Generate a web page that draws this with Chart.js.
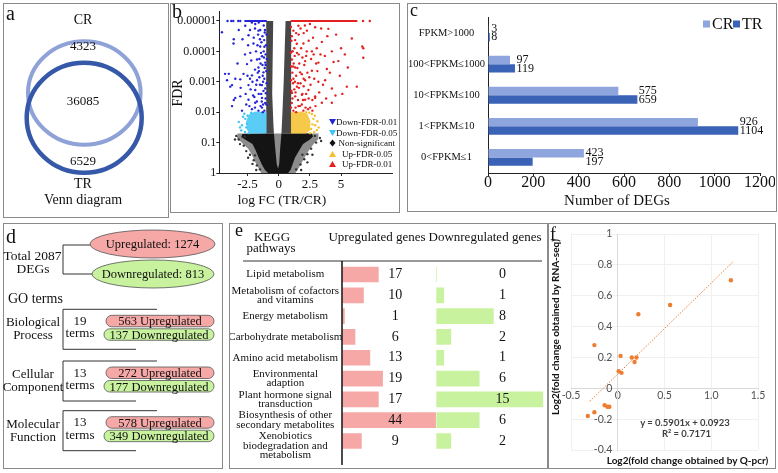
<!DOCTYPE html>
<html>
<head>
<meta charset="utf-8">
<title>DEG overview</title>
<script src="https://cdn.jsdelivr.net/npm/chart.js@4.4.1/dist/chart.umd.min.js"></script>
<style>
  html, body { margin: 0; padding: 0; background: #fff; }
  #fig { position: relative; width: 778px; height: 473px; overflow: hidden; background: #fff; }
  .panel { position: absolute; border: 1px solid #8a8a8a; box-sizing: border-box; }
  canvas { position: absolute; }
  #shapes { position: absolute; left: 0; top: 0; }
  .t { position: absolute; white-space: nowrap; line-height: 1; }
</style>
</head>
<body>
<div id="fig">
  <div class="panel" style="left:3px;top:3px;width:166px;height:215px"></div>
  <div class="panel" style="left:170px;top:3px;width:230px;height:210px"></div>
  <div class="panel" style="left:407px;top:3px;width:370px;height:209px"></div>
  <div class="panel" style="left:3px;top:223px;width:220px;height:246px"></div>
  <div class="panel" style="left:229px;top:223px;width:319px;height:246px"></div>
  <div class="panel" style="left:548px;top:223px;width:228px;height:246px"></div>
  <canvas id="volcano" width="227" height="207" style="left:171px;top:4px"></canvas>
  <canvas id="fpkm" width="367" height="207" style="left:408px;top:4px"></canvas>
  <canvas id="kegg" width="316" height="243" style="left:230px;top:224px"></canvas>
  <canvas id="qpcr" width="225" height="243" style="left:550px;top:224px"></canvas>
  <svg id="shapes" width="778" height="473"></svg>
</div>
<script>
// ---- a: Venn counts
const vennSets = ['CR', 'TR'];
const vennCounts = [4323, 36085, 6529]; // CR only, shared, TR only

// ---- b: volcano, x = log FC, y = -log10(FDR)
const fdrTickLabels = ['1', '0.1', '0.01', '0.001', '0.0001', '0.00001'];
const fcTicks = [-2.5, 0, 2.5, 5];
const downStrong = [[-4.55,4.63],[-3.62,4.26],[-3.6,4.4],[-2.68,4.84],[-2.42,4.53],[-1.88,4.9],[-1.62,4.68],[-2.02,4.26],
  [-1.48,4.16],[-1.16,4.37],[-2.28,3.95],[-1.74,3.73],[-1.34,3.84],[-1.08,3.63],[-2.54,3.58],[-1.62,3.47],[-1.22,3.31],
  [-2.82,3.26],[-2.14,3.21],[-1.74,3.05],[-4.0,3.26],[-4.3,3.26],[-4.14,3.05],[-3.48,3.1],[-3.08,3.08],[-2.42,2.89],
  [-1.34,2.89],[-1.88,2.73],[-1.08,2.78],[-3.88,2.84],[-3.74,2.89],[-3.48,2.47],[-3.08,2.52],[-3.74,2.2],[-3.6,2.4],
  [-2.42,2.41],[-1.88,2.31],[-1.34,2.47],[-2.14,2.1],[-1.34,2.15],[-2.94,2.05],[-1.62,2.05],[-1.1,4.7],[-1.3,4.5],
  [-1.5,4.4],[-1.2,4.0],[-1.45,3.6],[-1.15,3.1],[-1.55,3.15],[-1.05,2.45],[-1.25,2.25],[-1.6,2.6],[-1.9,3.4],[-2.2,3.7],
  [-1.3,3.55],[-1.05,3.9],[-1.7,4.2],[-2.3,4.7],[-1.4,2.6],[-1.15,2.05],[-1.75,2.35],[-2.05,2.55],[-2.6,2.25],[-2.3,3.1],
  [-1.2,4.85],[-1.6,4.95],[-4.1,5],[-3.8,5],[-3.64,5],[-3.24,5],[-3.08,5],
  [-0.98,4.55],[-1.02,4.2],[-0.96,3.75],[-1.0,3.35],[-0.97,2.95],[-1.03,2.62],[-0.99,2.25],[-1.12,4.62],[-1.18,3.8],
  [-1.28,3.2],[-1.38,4.3],[-1.42,3.95],[-1.55,3.75],[-1.68,3.3],[-1.8,2.9],[-1.95,2.5],[-1.36,2.35],[-1.22,2.7],
  [-1.12,3.45],[-1.5,2.9],[-1.65,4.55],[-1.82,4.0],[-2.0,4.45],[-2.1,3.0],[-2.25,2.75],[-2.5,3.2],[-2.7,3.9],[-2.9,4.4],
  [-3.2,4.7],[-2.45,4.2],[-1.08,2.3],[-1.28,2.0],[-1.45,2.2],[-1.58,3.35],[-1.9,2.15],[-2.35,2.2],[-2.65,2.6],[-3.3,3.6],
  [-3.05,2.8],[-1.15,4.15],[-1.25,3.0],[-1.05,3.55],[-1.48,4.7],[-1.9,4.75],[-2.15,4.95]];
const upStrong = [[1.18,4.68],[1.58,4.84],[2.26,4.68],[2.92,4.79],[3.98,4.74],[1.32,4.37],[1.98,4.26],[3.46,4.31],
  [1.46,3.95],[2.66,4.0],[4.26,4.0],[1.06,3.73],[2.12,3.68],[3.18,3.63],[1.32,3.47],[1.72,3.31],[2.66,3.36],[3.86,3.42],
  [1.18,3.1],[2.12,3.05],[3.18,3.0],[1.46,2.84],[2.38,2.73],[4.26,2.78],[1.06,2.63],[1.86,2.57],[1.32,2.52],[2.12,2.41],
  [2.92,2.47],[3.46,2.31],[1.58,2.2],[2.52,2.15],[1.18,2.05],[1.98,2.05],[5.86,4.42],[5.54,3.47],[5.46,2.84],[6.78,4.1],
  [6.7,4.16],[6.78,3.79],[6.26,2.84],[4.78,3.68],[3.72,3.05],[4.26,2.31],[2.92,2.52],[1.05,4.5],[1.25,4.1],[1.6,4.55],
  [1.1,3.3],[1.4,3.2],[1.75,2.95],[1.25,2.75],[1.55,2.4],[1.05,2.3],[1.35,2.15],[1.85,2.25],[2.2,2.6],[2.45,3.15],
  [1.9,3.8],[2.4,4.35],[1.15,2.95],[1.65,3.6],[2.0,2.85],[1.4,2.0],[2.7,2.05],[3.1,3.35],[2.0,4.6],[3.4,4.75],[2.8,3.9],
  [3.7,3.85],[4.6,4.55],[5.1,2.6],[4.9,3.2],[6.76,5],[7.3,5],
  [0.98,4.8],[1.02,4.35],[0.97,3.95],[1.0,3.5],[0.98,3.05],[1.02,2.7],[0.99,2.15],[1.12,4.0],[1.2,3.6],[1.3,3.0],
  [1.45,4.25],[1.5,3.45],[1.62,2.8],[1.7,2.2],[1.8,4.1],[1.85,3.25],[1.95,2.4],[2.05,3.55],[2.15,2.15],[2.25,4.0],
  [2.3,3.3],[2.4,2.45],[2.55,2.9],[2.6,3.75],[2.75,4.45],[2.85,3.1],[2.95,2.2],[3.05,4.1],[3.25,2.65],[3.35,3.9],
  [3.55,2.9],[3.8,2.45],[3.9,4.5],[4.1,3.3],[4.4,3.65],[4.55,2.55],[5.0,4.1],[5.3,3.9],[1.1,2.45],[1.35,2.65],
  [1.55,2.95],[1.28,3.85],[1.4,4.6],[1.75,4.75],[2.1,4.85],[2.5,4.9],[1.6,3.9],[2.2,3.85],[1.9,2.6],[2.35,2.1],
  [1.15,3.5],[1.08,4.0],[3.0,3.6],[2.7,2.4],[2.0,3.1]];
const downWeak = [[-3.2,1.68],[-2.68,1.78],[-2.94,1.57],[-2.42,1.31],[-2.75,1.95],[-3.0,1.4],[-2.6,1.5],[-2.2,1.98],
  [-2.7,1.35],[-2.85,1.85],[-2.55,1.62],[-3.1,1.5],[-2.5,1.88]];
const upWeak = [[2.78,1.78],[2.92,1.57],[3.06,1.41],[2.52,1.31],[2.66,1.94],[2.2,2.0],[2.7,1.6],[3.2,1.5],[2.9,1.88],
  [2.6,1.45],[2.85,1.35],[3.1,1.7],[2.45,1.98]];
const nonSigDots = [[-3.2,1.1],[-2.8,0.9],[-2.6,0.72],[-2.3,0.6],[-2.0,0.42],[-1.75,0.25],[-1.5,0.12],[-3.4,1.22],
  [-2.7,1.2],[3.0,1.0],[2.6,0.8],[2.3,0.62],[2.05,0.45],[1.75,0.28],[1.4,0.12],[3.3,1.15],[2.9,1.22],[1.9,0.6],[-1.9,0.58],
  [-3.5,1.1],[-3.1,0.95],[-2.45,0.5],[-2.1,0.3],[3.4,1.05],[2.7,0.6],[2.3,0.35],[-1.8,0.1],[1.8,0.1]];
// dense regions, outlined by hand
const cloudFringe = [[-3.3,1.3],[-3.35,1.15],[-2.85,0.95],[-2.45,0.8],[-2.15,0.6],[-1.9,0.38],[-1.65,0.18],[-1.4,0],
  [1.35,0],[1.65,0.2],[2.0,0.45],[2.35,0.7],[2.8,0.95],[3.15,1.1],[3.2,1.3]];
const cloudCore = [[-1.0,1.3],[-2.9,1.28],[-3.0,1.18],[-2.5,1.05],[-2.1,0.95],[-1.85,0.75],[-1.6,0.5],[-1.35,0.28],
  [-1.1,0.1],[-0.85,0],[0.75,0],[0.95,0.1],[1.3,0.5],[1.65,0.75],[1.95,0.95],[2.5,1.1],[2.75,1.2],[2.65,1.3],[1.0,1.3],
  [0.22,1.3],[0.12,0.82],[0.04,0.3],[-0.05,0.15],[-0.16,0.3],[-0.28,0.82],[-0.38,1.3]];
const cloudLeftArm = [[-1.0,1.3],[-1.0,5.0],[-0.44,5.0],[-0.52,2.6],[-0.42,1.58],[-0.38,1.3]];
const cloudRightArm = [[1.0,1.3],[1.0,5.0],[0.55,5.0],[0.4,3.0],[0.3,2.0],[0.25,1.55],[0.22,1.3]];
const downWeakCloud = [[-0.98,1.3],[-0.98,2.0],[-1.9,2.02],[-2.4,1.92],[-2.6,1.7],[-2.55,1.42],[-2.3,1.3]];
const upWeakCloud = [[0.98,1.3],[0.98,2.0],[1.8,2.02],[2.3,1.95],[2.55,1.7],[2.5,1.4],[2.2,1.3]];
const downFloor = [[-2.75,5],[-0.95,5]];
const upFloor = [[0.95,5],[6.3,5]];
const volcanoLegend = ['Down-FDR-0.01', 'Down-FDR-0.05', 'Non-significant', 'Up-FDR-0.05', 'Up-FDR-0.01'];

// ---- c: DEGs per FPKM bin
const fpkmBins = ['FPKM>1000', '100<FPKM≤1000', '10<FPKM≤100', '1<FPKM≤10', '0<FPKM≤1'];
const crCounts = [3, 97, 575, 926, 423];
const trCounts = [8, 119, 659, 1104, 197];

// ---- d: DEG totals and GO terms
const degTotal = 2087, degUp = 1274, degDown = 813;
const goCategories = [['Biological', 'Process'], ['Cellular', 'Component'], ['Molecular', 'Function']];
const goTerms = [19, 13, 13];
const goUp = [563, 272, 578];
const goDown = [137, 177, 349];

// ---- e: KEGG pathways
const keggPathways = [
  'Lipid metabolism',
  ['Metabolism of cofactors', 'and vitamins'],
  'Energy metabolism',
  'Carbohydrate metabolism',
  'Amino acid metabolism',
  ['Environmental', 'adaption'],
  ['Plant hormone signal', 'transduction'],
  ['Biosynthesis of other', 'secondary metabolites'],
  ['', 'Xenobiotics', 'biodegradation and', 'metabolism']
];
const keggUp = [17, 10, 1, 6, 13, 19, 17, 44, 9];
const keggDown = [0, 1, 8, 2, 1, 6, 15, 6, 2];

// ---- f: qPCR vs RNA-seq
const qpcrFC = [1.21, 0.56, 0.22, -0.25, 0.03, 0.15, 0.20, 0.18, 0.01, 0.04, -0.14, -0.11, -0.09, -0.25, -0.32];
const rnaseqFC = [0.70, 0.54, 0.48, 0.28, 0.21, 0.20, 0.20, 0.17, 0.11, 0.10, -0.11, -0.12, -0.12, -0.155, -0.18];
const trendSlope = 0.5901, trendIntercept = 0.0923, trendR2 = 0.7171;
const trendRange = [-0.3, 1.23];

const SERIF = '"Liberation Serif", "Times New Roman", serif';
const SANS = 'Lato, "Liberation Sans", Arial, sans-serif';
const BLUE = '#2424d8', CYAN = '#3cc4f4', YELLOW = '#f6c02c', RED = '#e42020';
const CR_COLOR = '#8ea5dd', TR_COLOR = '#3a62b6';
const PINK = '#f5a8a6', GREEN = '#c8f29e';

Chart.defaults.font.family = SERIF;
Chart.defaults.color = '#111';

const fig = document.getElementById('fig');
const svg = document.getElementById('shapes');

function put(str, x, y, o = {}) {
  const d = document.createElement('div');
  d.className = 't';
  d.textContent = str;
  d.style.font = `${o.weight || 'normal'} ${o.size || 13}px ${o.family || SERIF}`;
  d.style.color = o.color || '#111';
  d.style.left = x + 'px';
  d.style.top = y + 'px';
  const tx = o.align === 'left' ? '0' : o.align === 'right' ? '-100%' : '-50%';
  d.style.transform = `translate(${tx},-50%)` + (o.rotate ? ` rotate(${o.rotate}deg)` : '');
  fig.appendChild(d);
}

function shape(tag, attrs) {
  const el = document.createElementNS('http://www.w3.org/2000/svg', tag);
  for (const k in attrs) el.setAttribute(k, attrs[k]);
  svg.appendChild(el);
  return el;
}

const pts = arr => arr.map(([x, y]) => ({ x, y }));

// ================= a =================
shape('ellipse', { cx: 84.3, cy: 93, rx: 56.3, ry: 51.7, fill: 'none', stroke: '#8fa2d8', 'stroke-width': 4 });
shape('ellipse', { cx: 84.2, cy: 117.8, rx: 57.5, ry: 55, fill: 'none', stroke: '#3658a8', 'stroke-width': 4.5 });
put('a', 6, 13, { size: 20, align: 'left' });
put(vennSets[0], 83, 20, { size: 14 });
put(String(vennCounts[0]), 83, 46, { size: 13 });
put(String(vennCounts[1]), 83, 101, { size: 13 });
put(String(vennCounts[2]), 83, 161, { size: 13 });
put(vennSets[1], 83, 184, { size: 14 });
put('Venn diagram', 83, 200, { size: 14 });

// ================= b =================
const volcanoClouds = {
  id: 'volcanoClouds',
  beforeDatasetsDraw(chart) {
    const { ctx, chartArea: ca, scales: { x, y } } = chart;
    ctx.save();
    ctx.beginPath();
    ctx.rect(ca.left, ca.top, ca.width, ca.height);
    ctx.clip();
    [[cloudFringe, '#8c8c8c'], [cloudCore, '#141414'], [cloudLeftArm, '#474747'], [cloudRightArm, '#474747'],
     [downWeakCloud, 'rgba(60,196,244,0.85)'], [upWeakCloud, 'rgba(246,192,44,0.85)']].forEach(([poly, color]) => {
      ctx.beginPath();
      poly.forEach(([a, b], i) => {
        const px = x.getPixelForValue(a), py = y.getPixelForValue(b);
        if (i) ctx.lineTo(px, py); else ctx.moveTo(px, py);
      });
      ctx.closePath();
      ctx.fillStyle = color;
      ctx.fill();
    });
    ctx.restore();
  }
};

const dots = (data, color) => ({ data: pts(data), backgroundColor: color, borderWidth: 0, pointRadius: 1.2 });
const floor = (data, color) => ({ type: 'line', data: pts(data), borderColor: color, borderWidth: 2, pointRadius: 0, fill: false });

new Chart(document.getElementById('volcano'), {
  type: 'scatter',
  data: {
    datasets: [
      dots(nonSigDots, '#333'),
      dots(downWeak, CYAN),
      dots(upWeak, YELLOW),
      floor(downFloor, BLUE),
      floor(upFloor, RED),
      dots(downStrong, BLUE),
      dots(upStrong, RED)
    ]
  },
  options: {
    responsive: false, animation: false, devicePixelRatio: 1,
    layout: { padding: { top: 1, right: 6, left: 0, bottom: 0 } },
    plugins: { legend: { display: false }, tooltip: { enabled: false } },
    scales: {
      x: {
        type: 'linear', min: -4.76, max: 9.08,
        afterBuildTicks: s => { s.ticks = fcTicks.map(v => ({ value: v })); },
        afterFit: s => { s.height = 38; },
        grid: { drawOnChartArea: false, tickLength: 3, color: '#222' },
        border: { color: '#222' },
        ticks: { color: '#111', font: { size: 13, lineHeight: 1 }, padding: 2.5, maxRotation: 0, autoSkip: false }
      },
      y: {
        type: 'linear', min: 0, max: 5.32,
        afterBuildTicks: s => { s.ticks = fdrTickLabels.map((_, i) => ({ value: i })); },
        afterFit: s => { s.width = 48.3; },
        grid: { drawOnChartArea: false, tickLength: 3, color: '#222' },
        border: { color: '#222' },
        ticks: { color: '#111', font: { size: 12 }, padding: 0, autoSkip: false, callback: v => fdrTickLabels[v] }
      }
    }
  },
  plugins: [volcanoClouds]
});

put('b', 172, 11, { size: 20, align: 'left' });
put('FDR', 178, 93, { size: 14, rotate: -90 });
put('log FC (TR/CR)', 282, 200, { size: 13.5 });

const legendColors = [BLUE, CYAN, '#111', YELLOW, RED];
const legendRowY = [122, 133, 143, 154, 164];
const legendTextX = [336, 336, 338.5, 342, 342];
volcanoLegend.forEach((name, i) => {
  const cx = 332.5, cy = legendRowY[i];
  let p;
  if (i < 2) p = `${cx - 3.5},${cy - 3} ${cx + 3.5},${cy - 3} ${cx},${cy + 3}`;
  else if (i === 2) p = `${cx},${cy - 3.5} ${cx + 3},${cy} ${cx},${cy + 3.5} ${cx - 3},${cy}`;
  else p = `${cx - 3.5},${cy + 3} ${cx + 3.5},${cy + 3} ${cx},${cy - 3}`;
  shape('polygon', { points: p, fill: legendColors[i] });
  put(name, legendTextX[i], cy, { size: 9, align: 'left' });
});

// ================= c =================
const barValueLabels = {
  id: 'barValueLabels',
  afterDatasetsDraw(chart) {
    const ctx = chart.ctx;
    const cr = chart.getDatasetMeta(0).data, tr = chart.getDatasetMeta(1).data;
    ctx.save();
    ctx.font = '12px ' + SERIF;
    ctx.fillStyle = '#111';
    ctx.textAlign = 'left';
    ctx.textBaseline = 'middle';
    cr.forEach((bar, i) => {
      const x = Math.max(bar.x, tr[i].x) + 1.5;
      ctx.fillText(crCounts[i], x, bar.y);
      ctx.fillText(trCounts[i], x, tr[i].y);
    });
    ctx.restore();
  }
};

new Chart(document.getElementById('fpkm'), {
  type: 'bar',
  data: {
    labels: fpkmBins,
    datasets: [
      { label: 'CR', data: crCounts, backgroundColor: CR_COLOR },
      { label: 'TR', data: trCounts, backgroundColor: TR_COLOR }
    ]
  },
  options: {
    indexAxis: 'y', responsive: false, animation: false, devicePixelRatio: 1,
    layout: { padding: { top: 13.5, right: 12, left: 0, bottom: 0 } },
    datasets: { bar: { categoryPercentage: 0.54, barPercentage: 1 } },
    plugins: { legend: { display: false }, tooltip: { enabled: false } },
    scales: {
      x: {
        min: 0, max: 1200,
        afterFit: s => { s.height = 38; },
        grid: { drawOnChartArea: false, tickLength: 3, color: '#222' },
        border: { color: '#222' },
        ticks: { stepSize: 200, color: '#111', font: { size: 16, lineHeight: 1 }, padding: -1, maxRotation: 0, callback: v => String(v) }
      },
      y: {
        afterFit: s => { s.width = 80; },
        grid: { display: false, drawTicks: false },
        border: { display: true, color: '#222' },
        ticks: { color: '#111', font: { size: 10.5 }, crossAlign: 'center', padding: 3, autoSkip: false }
      }
    }
  },
  plugins: [barValueLabels]
});

put('c', 410, 10, { size: 18, align: 'left' });
shape('rect', { x: 703, y: 20.5, width: 7, height: 7, fill: CR_COLOR });
put('CR', 712, 24, { size: 16, align: 'left' });
shape('rect', { x: 733, y: 20.5, width: 7, height: 7, fill: TR_COLOR });
put('TR', 742, 24, { size: 16, align: 'left' });
put('Number of DEGs', 617, 200, { size: 15 });

// ================= d =================
const lineStyle = { fill: 'none', stroke: '#333', 'stroke-width': 1 };
put('d', 6, 235.5, { size: 20, align: 'left' });
put('Total ' + degTotal, 32.5, 256, { size: 13.5 });
put('DEGs', 33, 269, { size: 13.5 });
shape('polyline', Object.assign({ points: '92,245 63,245 63,274 97,274' }, lineStyle));
shape('ellipse', { cx: 152.5, cy: 244, rx: 62.5, ry: 14, fill: PINK, stroke: '#555', 'stroke-width': 0.8 });
put('Upregulated: ' + degUp, 152.5, 244, { size: 12.5 });
shape('ellipse', { cx: 153, cy: 274, rx: 61, ry: 14, fill: GREEN, stroke: '#555', 'stroke-width': 0.8 });
put('Downregulated: ' + degDown, 153, 274, { size: 12.5 });
put('GO terms', 8, 299, { size: 14, align: 'left' });

const goBlockTop = [309.3, 361, 410.7];
goBlockTop.forEach((y0, i) => {
  shape('polyline', Object.assign({ points: `157,${y0} 63,${y0} 63,${y0 + 40} 136,${y0 + 40}` }, lineStyle));
  put(goCategories[i][0], 33, y0 + 13, { size: 13 });
  put(goCategories[i][1], 33, y0 + 26, { size: 13 });
  put(String(goTerms[i]), 80, y0 + 11.5, { size: 13 });
  put('terms', 80, y0 + 24, { size: 13 });
  shape('rect', { x: 106, y: y0 + 6, width: 108, height: 11.5, rx: 5.75, fill: PINK, stroke: '#555', 'stroke-width': 0.8 });
  put(goUp[i] + ' Upregulated', 160, y0 + 12, { size: 12.5 });
  shape('rect', { x: 104, y: y0 + 19.5, width: 110, height: 11.5, rx: 5.75, fill: GREEN, stroke: '#555', 'stroke-width': 0.8 });
  put(goDown[i] + ' Downregulated', 159, y0 + 25.5, { size: 12.5 });
});

// ================= e =================
const UP_COUNT_COL = 25, DOWN_COUNT_COL = 9.3;
const keggCounts = {
  id: 'keggCounts',
  afterDatasetsDraw(chart) {
    const { ctx, scales } = chart;
    const bars = chart.getDatasetMeta(0).data;
    ctx.save();
    ctx.font = '14px ' + SERIF;
    ctx.fillStyle = '#111';
    ctx.textAlign = 'center';
    ctx.textBaseline = 'middle';
    bars.forEach((bar, i) => {
      ctx.fillText(keggUp[i], scales.xUp.getPixelForValue(UP_COUNT_COL), bar.y);
      ctx.fillText(keggDown[i], scales.xDown.getPixelForValue(DOWN_COUNT_COL), bar.y);
    });
    ctx.restore();
  }
};

new Chart(document.getElementById('kegg'), {
  type: 'bar',
  data: {
    labels: keggPathways,
    datasets: [
      { data: keggUp, backgroundColor: PINK, xAxisID: 'xUp', grouped: false, barThickness: 15 },
      { data: keggDown, backgroundColor: GREEN, xAxisID: 'xDown', grouped: false, barThickness: 15 }
    ]
  },
  options: {
    indexAxis: 'y', responsive: false, animation: false, devicePixelRatio: 1,
    layout: { padding: { top: 40.1, right: 2.5, bottom: 15.6, left: 0 } },
    plugins: { legend: { display: false }, tooltip: { enabled: false } },
    scales: {
      xUp: { type: 'linear', axis: 'x', position: 'bottom', display: false, min: 0, max: 94.9 },
      xDown: { type: 'linear', axis: 'x', position: 'bottom', display: false, min: -13.31, max: 15.07 },
      y: {
        type: 'category',
        afterFit: s => { s.width = 112.3; },
        grid: { display: false, drawTicks: false },
        border: { display: false },
        ticks: { color: '#111', font: { size: 11, lineHeight: 0.84 }, crossAlign: 'center', padding: 0, autoSkip: false }
      }
    }
  },
  plugins: [keggCounts]
});

put('e', 235, 230, { size: 18, align: 'left' });
put('KEGG', 272, 237, { size: 13 });
put('pathways', 271, 247.5, { size: 13 });
put('Upregulated genes', 377, 237, { size: 13 });
put('Downregulated genes', 485, 237, { size: 13 });
shape('line', { x1: 243, y1: 261, x2: 542, y2: 261, stroke: '#333', 'stroke-width': 1 });
shape('line', { x1: 342, y1: 261, x2: 342, y2: 465, stroke: '#111', 'stroke-width': 1.5 });

// ================= f =================
const tickFont = { family: SANS, size: 10.5, lineHeight: 1 };
new Chart(document.getElementById('qpcr'), {
  type: 'scatter',
  data: {
    datasets: [
      { data: qpcrFC.map((x, i) => ({ x, y: rnaseqFC[i] })), backgroundColor: '#ed7d31', borderWidth: 0, pointRadius: 2.2 },
      {
        type: 'line', data: trendRange.map(x => ({ x, y: trendSlope * x + trendIntercept })),
        borderColor: '#ed7d31', borderWidth: 1, borderDash: [1.5, 1.5], pointRadius: 0, fill: false
      }
    ]
  },
  options: {
    responsive: false, animation: false, devicePixelRatio: 1,
    layout: { padding: { left: 21, right: 17, top: 10, bottom: 17 } },
    plugins: { legend: { display: false }, tooltip: { enabled: false } },
    scales: {
      x: {
        type: 'linear', position: { y: 0 }, min: -0.5, max: 1.5,
        grid: { color: '#f0f0f0', drawTicks: false },
        border: { color: '#d9d9d9' },
        ticks: { stepSize: 0.5, font: tickFont, color: '#505050', padding: 2.5, maxRotation: 0 }
      },
      y: {
        type: 'linear', position: { x: 0 }, min: -0.4, max: 1,
        grid: { color: '#f0f0f0', drawTicks: false },
        border: { color: '#d9d9d9' },
        ticks: { stepSize: 0.2, font: tickFont, color: '#505050', callback: v => (Math.round(v * 10) / 10) + '  ' }
      }
    }
  }
});

put('f', 550, 234, { size: 18, align: 'left' });
put('Log2(fold change obtained by RNA-seq)', 555, 326.5, { size: 10, weight: 'bold', family: SANS, rotate: -90 });
put('Log2(fold change obtained by Q-pcr)', 687.5, 460, { size: 10, weight: 'bold', family: SANS });
put(`y = ${trendSlope}x + ${trendIntercept}`, 685, 422, { size: 9.5, weight: 'bold', family: SANS, color: '#404040' });
put(`R² = ${trendR2}`, 686.5, 433, { size: 9.5, weight: 'bold', family: SANS, color: '#404040' });
</script>
</body>
</html>
